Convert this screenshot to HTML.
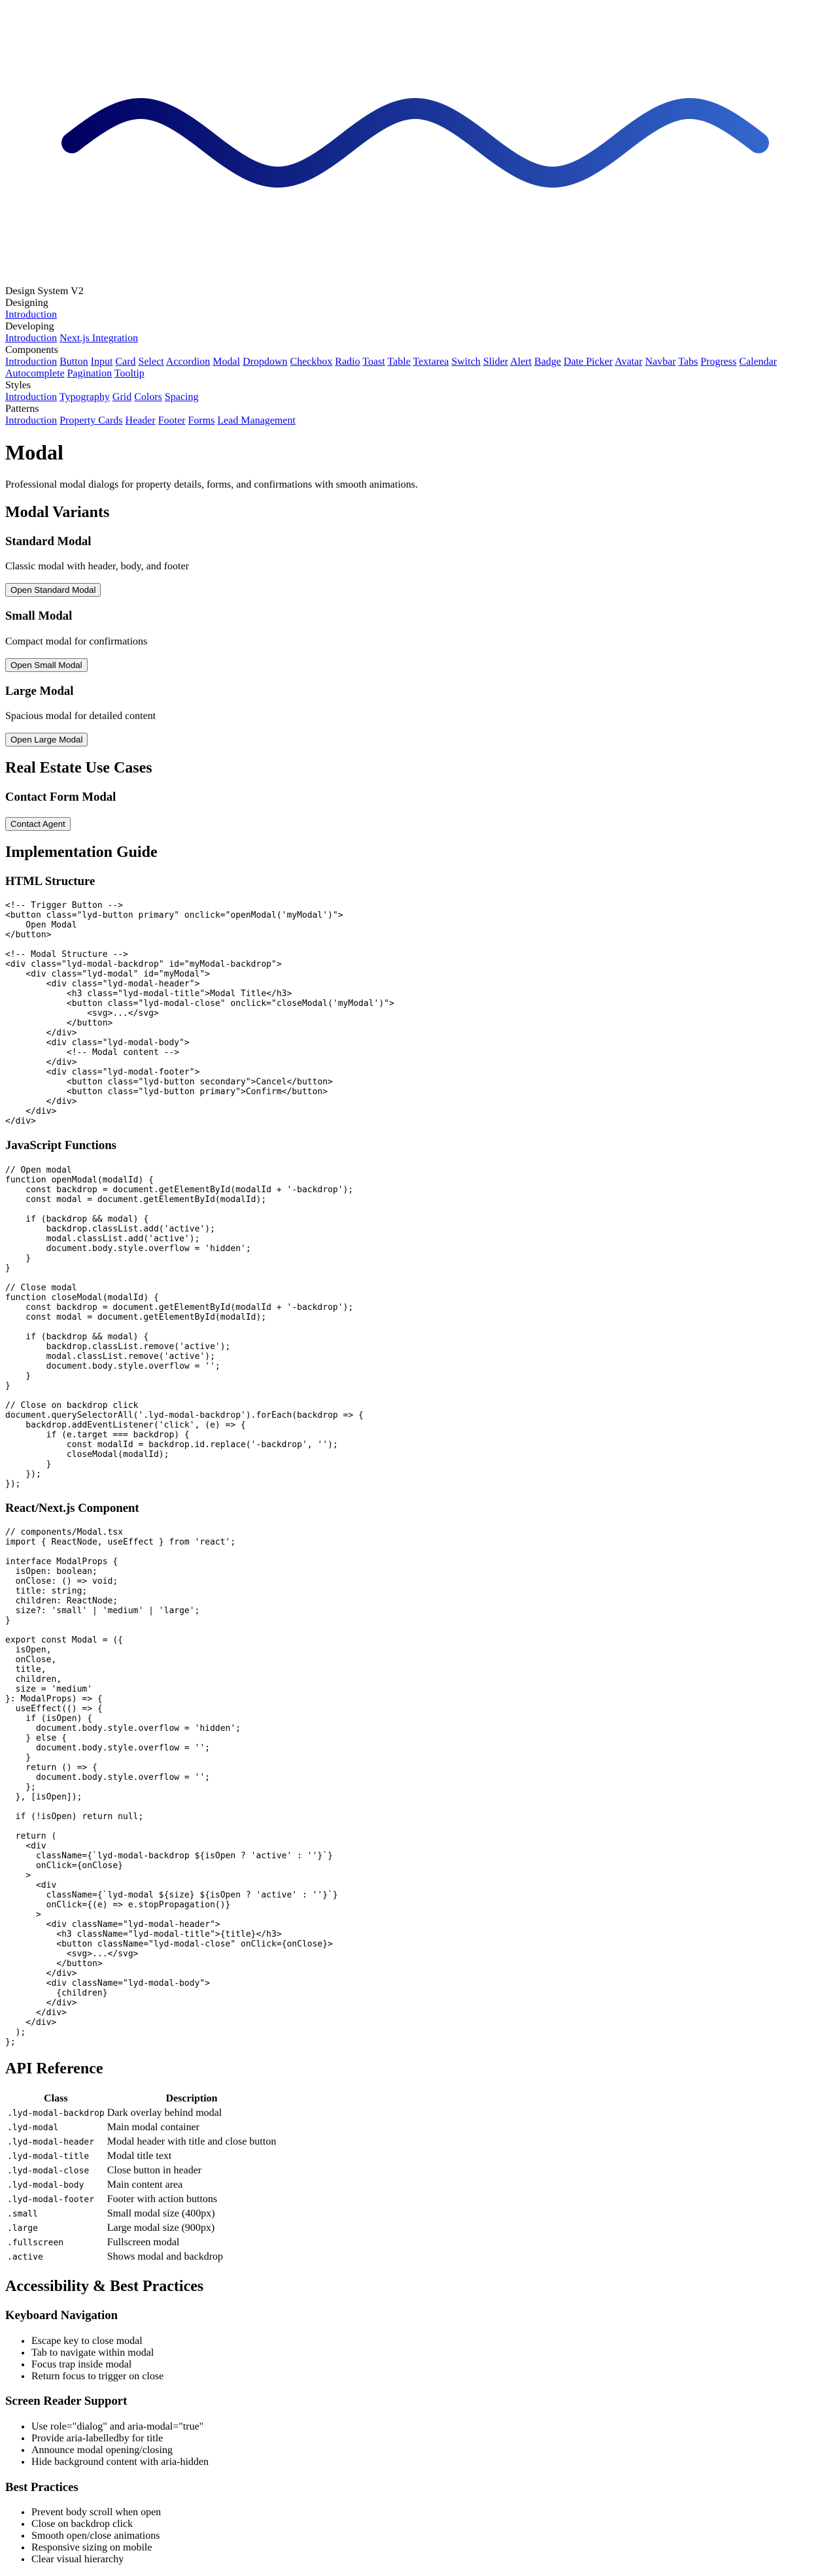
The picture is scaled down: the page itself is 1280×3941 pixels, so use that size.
<!DOCTYPE html>
<html>
<head>
<meta charset="utf-8">
<style>
html,body{background:#fff;}
body{margin:8px;font-family:"Liberation Serif",serif;font-size:16px;color:#000;position:relative;}
.wave{position:absolute;left:-8px;top:-8px;width:1280px;height:429px;}
.spacer{height:429px;}
a{color:#0000ee;}
pre,code{font-family:"DejaVu Sans Mono",monospace;font-size:13px;}
button{font-family:"Liberation Sans",sans-serif;font-size:13.33px;}
</style>
</head>
<body>
<svg class="wave" viewBox="0 0 1280 429" xmlns="http://www.w3.org/2000/svg">
<defs><linearGradient id="g" gradientUnits="userSpaceOnUse" x1="110" y1="0" x2="1160" y2="0"><stop offset="0" stop-color="#000062"/><stop offset="1" stop-color="#3366cc"/></linearGradient></defs>
<path d="M110 218.5 C199 148.5 231 148.5 320 218.5 C409 288.5 441 288.5 530 218.5 C619 148.5 651 148.5 740 218.5 C829 288.5 861 288.5 950 218.5 C1039 148.5 1071 148.5 1160 218.5" fill="none" stroke="url(#g)" stroke-width="32" stroke-linecap="round"/>
</svg>
<div class="spacer"></div>
<div>Design System V2</div>
<div>Designing</div>
<div><a href="#">Introduction</a></div>
<div>Developing</div>
<div><a href="#">Introduction</a> <a href="#">Next.js Integration</a></div>
<div>Components</div>
<div><a href="#">Introduction</a> <a href="#">Button</a> <a href="#">Input</a> <a href="#">Card</a> <a href="#">Select</a> <a href="#">Accordion</a> <a href="#">Modal</a> <a href="#">Dropdown</a> <a href="#">Checkbox</a> <a href="#">Radio</a> <a href="#">Toast</a> <a href="#">Table</a> <a href="#">Textarea</a> <a href="#">Switch</a> <a href="#">Slider</a> <a href="#">Alert</a> <a href="#">Badge</a> <a href="#">Date Picker</a> <a href="#">Avatar</a> <a href="#">Navbar</a> <a href="#">Tabs</a> <a href="#">Progress</a> <a href="#">Calendar</a> <a href="#">Autocomplete</a> <a href="#">Pagination</a> <a href="#">Tooltip</a></div>
<div>Styles</div>
<div><a href="#">Introduction</a> <a href="#">Typography</a> <a href="#">Grid</a> <a href="#">Colors</a> <a href="#">Spacing</a></div>
<div>Patterns</div>
<div><a href="#">Introduction</a> <a href="#">Property Cards</a> <a href="#">Header</a> <a href="#">Footer</a> <a href="#">Forms</a> <a href="#">Lead Management</a></div>

<h1>Modal</h1>
<p>Professional modal dialogs for property details, forms, and confirmations with smooth animations.</p>

<h2>Modal Variants</h2>
<h3>Standard Modal</h3>
<p>Classic modal with header, body, and footer</p>
<button>Open Standard Modal</button>
<h3>Small Modal</h3>
<p>Compact modal for confirmations</p>
<button>Open Small Modal</button>
<h3>Large Modal</h3>
<p>Spacious modal for detailed content</p>
<button>Open Large Modal</button>

<h2>Real Estate Use Cases</h2>
<h3>Contact Form Modal</h3>
<button>Contact Agent</button>

<h2>Implementation Guide</h2>
<h3>HTML Structure</h3>
<pre>&lt;!-- Trigger Button --&gt;
&lt;button class="lyd-button primary" onclick="openModal('myModal')"&gt;
    Open Modal
&lt;/button&gt;

&lt;!-- Modal Structure --&gt;
&lt;div class="lyd-modal-backdrop" id="myModal-backdrop"&gt;
    &lt;div class="lyd-modal" id="myModal"&gt;
        &lt;div class="lyd-modal-header"&gt;
            &lt;h3 class="lyd-modal-title"&gt;Modal Title&lt;/h3&gt;
            &lt;button class="lyd-modal-close" onclick="closeModal('myModal')"&gt;
                &lt;svg&gt;...&lt;/svg&gt;
            &lt;/button&gt;
        &lt;/div&gt;
        &lt;div class="lyd-modal-body"&gt;
            &lt;!-- Modal content --&gt;
        &lt;/div&gt;
        &lt;div class="lyd-modal-footer"&gt;
            &lt;button class="lyd-button secondary"&gt;Cancel&lt;/button&gt;
            &lt;button class="lyd-button primary"&gt;Confirm&lt;/button&gt;
        &lt;/div&gt;
    &lt;/div&gt;
&lt;/div&gt;</pre>

<h3>JavaScript Functions</h3>
<pre>// Open modal
function openModal(modalId) {
    const backdrop = document.getElementById(modalId + '-backdrop');
    const modal = document.getElementById(modalId);

    if (backdrop &amp;&amp; modal) {
        backdrop.classList.add('active');
        modal.classList.add('active');
        document.body.style.overflow = 'hidden';
    }
}

// Close modal
function closeModal(modalId) {
    const backdrop = document.getElementById(modalId + '-backdrop');
    const modal = document.getElementById(modalId);

    if (backdrop &amp;&amp; modal) {
        backdrop.classList.remove('active');
        modal.classList.remove('active');
        document.body.style.overflow = '';
    }
}

// Close on backdrop click
document.querySelectorAll('.lyd-modal-backdrop').forEach(backdrop =&gt; {
    backdrop.addEventListener('click', (e) =&gt; {
        if (e.target === backdrop) {
            const modalId = backdrop.id.replace('-backdrop', '');
            closeModal(modalId);
        }
    });
});</pre>

<h3>React/Next.js Component</h3>
<pre>// components/Modal.tsx
import { ReactNode, useEffect } from 'react';

interface ModalProps {
  isOpen: boolean;
  onClose: () =&gt; void;
  title: string;
  children: ReactNode;
  size?: 'small' | 'medium' | 'large';
}

export const Modal = ({
  isOpen,
  onClose,
  title,
  children,
  size = 'medium'
}: ModalProps) =&gt; {
  useEffect(() =&gt; {
    if (isOpen) {
      document.body.style.overflow = 'hidden';
    } else {
      document.body.style.overflow = '';
    }
    return () =&gt; {
      document.body.style.overflow = '';
    };
  }, [isOpen]);

  if (!isOpen) return null;

  return (
    &lt;div
      className={`lyd-modal-backdrop ${isOpen ? 'active' : ''}`}
      onClick={onClose}
    &gt;
      &lt;div
        className={`lyd-modal ${size} ${isOpen ? 'active' : ''}`}
        onClick={(e) =&gt; e.stopPropagation()}
      &gt;
        &lt;div className="lyd-modal-header"&gt;
          &lt;h3 className="lyd-modal-title"&gt;{title}&lt;/h3&gt;
          &lt;button className="lyd-modal-close" onClick={onClose}&gt;
            &lt;svg&gt;...&lt;/svg&gt;
          &lt;/button&gt;
        &lt;/div&gt;
        &lt;div className="lyd-modal-body"&gt;
          {children}
        &lt;/div&gt;
      &lt;/div&gt;
    &lt;/div&gt;
  );
};</pre>

<h2>API Reference</h2>
<table>
<thead><tr><th>Class</th><th>Description</th></tr></thead>
<tbody>
<tr><td><code>.lyd-modal-backdrop</code></td><td>Dark overlay behind modal</td></tr>
<tr><td><code>.lyd-modal</code></td><td>Main modal container</td></tr>
<tr><td><code>.lyd-modal-header</code></td><td>Modal header with title and close button</td></tr>
<tr><td><code>.lyd-modal-title</code></td><td>Modal title text</td></tr>
<tr><td><code>.lyd-modal-close</code></td><td>Close button in header</td></tr>
<tr><td><code>.lyd-modal-body</code></td><td>Main content area</td></tr>
<tr><td><code>.lyd-modal-footer</code></td><td>Footer with action buttons</td></tr>
<tr><td><code>.small</code></td><td>Small modal size (400px)</td></tr>
<tr><td><code>.large</code></td><td>Large modal size (900px)</td></tr>
<tr><td><code>.fullscreen</code></td><td>Fullscreen modal</td></tr>
<tr><td><code>.active</code></td><td>Shows modal and backdrop</td></tr>
</tbody>
</table>

<h2>Accessibility &amp; Best Practices</h2>
<h3>Keyboard Navigation</h3>
<ul>
<li>Escape key to close modal</li>
<li>Tab to navigate within modal</li>
<li>Focus trap inside modal</li>
<li>Return focus to trigger on close</li>
</ul>
<h3>Screen Reader Support</h3>
<ul>
<li>Use role="dialog" and aria-modal="true"</li>
<li>Provide aria-labelledby for title</li>
<li>Announce modal opening/closing</li>
<li>Hide background content with aria-hidden</li>
</ul>
<h3>Best Practices</h3>
<ul>
<li>Prevent body scroll when open</li>
<li>Close on backdrop click</li>
<li>Smooth open/close animations</li>
<li>Responsive sizing on mobile</li>
<li>Clear visual hierarchy</li>
</ul>
</body>
</html>
